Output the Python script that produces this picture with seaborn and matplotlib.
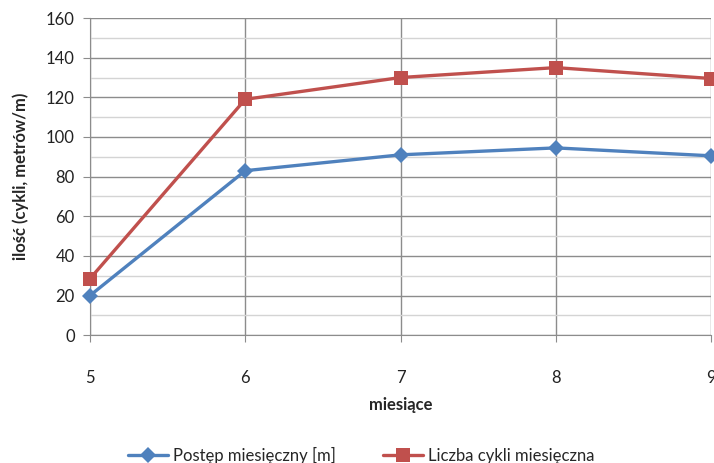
import pandas as pd
import seaborn as sns
import matplotlib.pyplot as plt
from matplotlib.ticker import MultipleLocator

# Data
miesiace = [5, 6, 7, 8, 9]
postep = [20, 83, 91, 94.5, 90.5]
cykle = [28.5, 119, 130, 135, 129.5]

df = pd.DataFrame({
    'miesiace': miesiace * 2,
    'wartosc': postep + cykle,
    'seria': ['Postęp miesięczny [m]'] * 5 + ['Liczba cykli miesięczna'] * 5,
})

sns.set_style('white')
plt.rcParams['font.family'] = ['Lato', 'DejaVu Sans']

fig = plt.figure(figsize=(7.14, 4.63), dpi=100)
ax = fig.add_axes([0.126, 0.276, 0.87, 0.685])

palette = {'Postęp miesięczny [m]': '#4F81BD', 'Liczba cykli miesięczna': '#C0504D'}
markers = {'Postęp miesięczny [m]': 'D', 'Liczba cykli miesięczna': 's'}
sizes = {'Postęp miesięczny [m]': 8, 'Liczba cykli miesięczna': 10}

for name in ['Postęp miesięczny [m]', 'Liczba cykli miesięczna']:
    sub = df[df['seria'] == name]
    sns.lineplot(data=sub, x='miesiace', y='wartosc', ax=ax, color=palette[name],
                 marker=markers[name], markersize=sizes[name], markeredgewidth=0,
                 linewidth=2.4, label=name, clip_on=False, zorder=5)

ax.set_xlim(5, 9)
ax.set_ylim(0, 160)
ax.set_xticks(miesiace)
ax.yaxis.set_major_locator(MultipleLocator(20))
ax.yaxis.set_minor_locator(MultipleLocator(10))

ax.grid(which='major', axis='both', color='#8c8c8c', linewidth=1)
ax.grid(which='minor', axis='y', color='#d4d4d4', linewidth=1)
ax.set_axisbelow(True)

for s in ['top', 'right']:
    ax.spines[s].set_visible(False)
ax.spines['left'].set_color('#8c8c8c')
ax.spines['bottom'].set_color('#8c8c8c')

ax.tick_params(axis='y', which='major', left=True, length=5, color='#8c8c8c',
               labelsize=12, pad=6, labelcolor='#222222')
ax.tick_params(axis='y', which='minor', left=False)
ax.tick_params(axis='x', bottom=True, length=5, color='#8c8c8c',
               labelsize=12, pad=20, labelcolor='#222222')

ax.set_xlabel('miesiące', fontsize=12, fontweight='bold', labelpad=8)
ax.set_ylabel('ilość (cykli, metrów/m)', fontsize=12, fontweight='bold', labelpad=12)

ax.legend(loc='lower center', bbox_to_anchor=(0.506, -0.035), bbox_transform=fig.transFigure,
          ncol=2, frameon=False, fontsize=12, handlelength=2.4, handletextpad=0.3,
          columnspacing=2.8)

fig.savefig('out.png', dpi=100)
